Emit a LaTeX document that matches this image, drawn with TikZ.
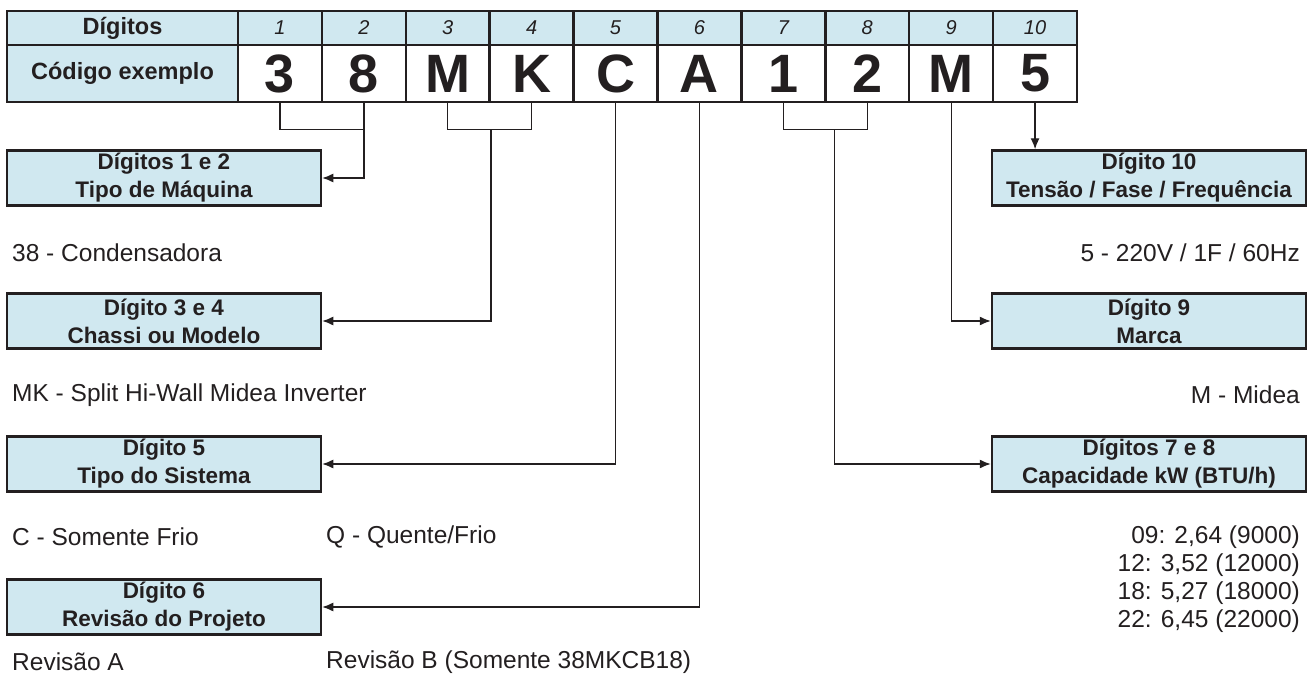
\documentclass[tikz,border=0pt]{standalone}
\usepackage{fontspec}
\setmainfont{Liberation Sans}
\usetikzlibrary{arrows.meta,positioning}
\definecolor{cellblue}{RGB}{208,232,240}
\definecolor{ink}{RGB}{35,31,32}

\tikzstyle{cell}=[shape=rectangle,draw=ink,line width=2.5pt,inner sep=0pt,minimum width=83.9pt,text=ink]
\tikzstyle{headcell}=[cell,fill=cellblue,minimum height=34pt,font=\fontsize{20}{24}\selectfont\itshape]
\tikzstyle{codecell}=[cell,fill=white,minimum height=57pt,font=\fontsize{54}{60}\selectfont\bfseries]
\tikzstyle{infobox}=[shape=rectangle,draw=ink,fill=cellblue,line width=2.5pt,minimum width=314pt,minimum height=55pt,inner sep=0pt,align=center,text=ink,font=\fontsize{22.5}{28}\selectfont\bfseries]
\tikzstyle{notetext}=[text=ink,inner sep=0pt,font=\fontsize{24.5}{28}\selectfont]
\tikzstyle{wire}=[draw=ink,line width=1.3pt]
\tikzstyle{wirearr}=[wire,-{Latex[length=11pt,width=9pt]}]
\def\colw{83.9}
\def\drop{26}

\begin{document}
\begin{tikzpicture}[x=1pt,y=-1pt]
\useasboundingbox (0,0) rectangle (1316,690);
% table
\node[headcell,minimum width=231pt,font=\fontsize{23.5}{28}\selectfont\bfseries] (h0) at (122.5,28) {Dígitos};
\node[codecell,fill=cellblue,minimum width=231pt,font=\fontsize{23.5}{28}\selectfont\bfseries] (c0) at (122.5,73.5) {Código exemplo};
\foreach \i/\ch in {1/3,2/8,3/M,4/K,5/C,6/A,7/1,8/2,9/M,10/5}{
  \node[headcell] (h\i) at ({238+(\i-0.5)*\colw},28) {\i};
  \node[codecell] (c\i) at ({238+(\i-0.5)*\colw},73.5) {\ch};
}

% left boxes
\node[infobox] (d12) at (164,178) {Dígitos 1 e 2\\Tipo de Máquina};
\node[infobox] (d34) at (164,321) {Dígito 3 e 4\\Chassi ou Modelo};
\node[infobox] (d5) at (164,464) {Dígito 5\\Tipo do Sistema};
\node[infobox] (d6) at (164,607) {Dígito 6\\Revisão do Projeto};

% right boxes
\node[infobox] (d10) at (1149,178) {Dígito 10\\Tensão / Fase / Frequência};
\node[infobox] (d9) at (1149,321) {Dígito 9\\Marca};
\node[infobox] (d78) at (1149,464) {Dígitos 7 e 8\\Capacidade kW (BTU/h)};

% connectors
\draw[wire] (c1.south) -- ++(0,\drop) -| (c2.south);
\draw[wirearr] (c2.south) |- (d12.east);
\draw[wire] (c3.south) -- ++(0,\drop) -| (c4.south);
\draw[wirearr] (c3.south east) ++(0,\drop) |- (d34.east);
\draw[wirearr] (c5.south) |- (d5.east);
\draw[wirearr] (c6.south) |- (d6.east);
\draw[wire] (c7.south) -- ++(0,\drop) -| (c8.south);
\draw[wirearr] ([xshift=8pt]c7.south east) ++(0,\drop) |- (d78.west);
\draw[wirearr] (c9.south) |- (d9.west);
\draw[wirearr] (c10.south) -- (c10.south |- d10.north);

% notes
\node[notetext,anchor=west] (n38) at (12,253) {38 - Condensadora};
\node[notetext,anchor=west] (nMK) at (12,395) {MK - Split Hi-Wall Midea Inverter};
\node[notetext,anchor=west] (nC) at (12,537) {C - Somente Frio};
\node[notetext,anchor=west] (nQ) at (326,537) {Q - Quente/Frio};
\node[notetext,anchor=west] (nRevA) at (12,662) {Revisão A};
\node[notetext,anchor=west] (nRevB) at (326,662) {Revisão B (Somente 38MKCB18)};
\node[notetext,anchor=east] (n5) at (1300,253) {5 - 220V / 1F / 60Hz};
\node[notetext,anchor=east] (nM) at (1300,395) {M - Midea};
\node[notetext,anchor=east,align=right] (nCap) at (1300,579.5) {09: 2,64 (9000)\\12: 3,52 (12000)\\18: 5,27 (18000)\\22: 6,45 (22000)};
\end{tikzpicture}
\end{document}
